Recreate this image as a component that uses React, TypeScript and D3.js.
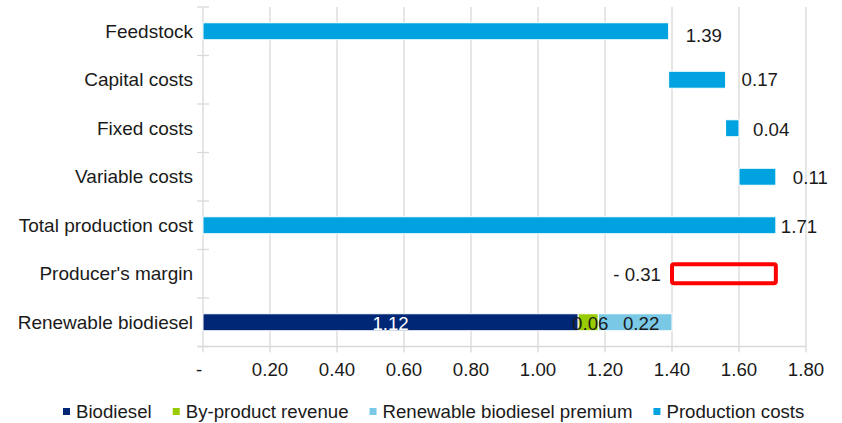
import React from "react";
import * as d3 from "d3";

const categories = [
  "Feedstock",
  "Capital costs",
  "Fixed costs",
  "Variable costs",
  "Total production cost",
  "Producer's margin",
  "Renewable biodiesel",
];
// waterfall: invisible base + visible production cost segment
const productionBase = [0, 1.39, 1.56, 1.6, 0];
const productionCosts = [1.39, 0.17, 0.04, 0.11, 1.71];
const marginBase = 1.4;
const marginValue = 0.31;
const marginLabel = "- 0.31";
const biodiesel = 1.12;
const byProduct = 0.06;
const premium = 0.22;
const xTicks = [0, 0.2, 0.4, 0.6, 0.8, 1.0, 1.2, 1.4, 1.6, 1.8];
const legendItems = [
  "Biodiesel",
  "By-product revenue",
  "Renewable biodiesel premium",
  "Production costs",
];

const COLORS = {
  production: "#00A3E0",
  biodiesel: "#002776",
  byProduct: "#99CC00",
  premium: "#78C8E6",
  margin: "#FF0000",
  grid: "#D9D9D9",
  text: "#1a1a1a",
};
const legendColors = [COLORS.biodiesel, COLORS.byProduct, COLORS.premium, COLORS.production];
const FONT = "'Liberation Sans', Arial, sans-serif";
const FS = 18.67;
const CAT_FS = 19;
// label layout: [x offset from bar end, y offset]
const labelOffsets = [
  [17, 4],
  [16, 0],
  [14, 1],
  [17, 1],
  [5, 1],
];

function measure(text: string): number {
  const c = document.createElement("canvas");
  const ctx = c.getContext("2d");
  if (!ctx) return text.length * 9;
  ctx.font = `${FS}px ${FONT}`;
  return ctx.measureText(text).width;
}

export default function App() {
  const W = 842;
  const H = 423;
  const left = 203;
  const right = 806;
  const top = 7;
  const bottom = 346.5;

  const x = d3.scaleLinear().domain([0, 1.8]).range([left, right]);
  const y = d3
    .scaleBand<string>()
    .domain(categories)
    .range([top, bottom])
    .paddingInner(0.65)
    .paddingOuter(0.325);
  const step = y.step();
  const bw = y.bandwidth();
  const cy = (c: string) => (y(c) as number) + bw / 2;
  const fmt = d3.format(".2f");

  // legend layout
  let lx = 63;
  const legendPos = legendItems.map((t) => {
    const p = lx;
    lx += 7 + 6 + measure(t) + 21;
    return p;
  });

  const renewRow = categories[6];
  const stack = [
    { v0: 0, v1: biodiesel, color: COLORS.biodiesel, label: fmt(biodiesel), tc: "#ffffff" },
    { v0: biodiesel, v1: biodiesel + byProduct, color: COLORS.byProduct, label: fmt(byProduct), tc: COLORS.text },
    { v0: biodiesel + byProduct, v1: biodiesel + byProduct + premium, color: COLORS.premium, label: fmt(premium), tc: COLORS.text },
  ];

  return (
    <svg
      width={W}
      height={H}
      style={{ position: "absolute", left: 0, top: 0, background: "#fff" }}
      fontFamily={FONT}
      fontSize={FS}
    >
      {/* gridlines */}
      {xTicks.map((t) => (
        <line key={"g" + t} x1={x(t)} x2={x(t)} y1={top} y2={bottom + 6} stroke={COLORS.grid} strokeWidth={1.3} />
      ))}
      {/* bottom axis */}
      <line x1={left - 6} x2={right} y1={bottom} y2={bottom} stroke={COLORS.grid} strokeWidth={1.3} />
      {/* category ticks */}
      {d3.range(categories.length + 1).map((i) => {
        const yy = top + i * step;
        return <line key={"t" + i} x1={left - 6} x2={left + 6} y1={yy} y2={yy} stroke={COLORS.grid} strokeWidth={1.3} />;
      })}
      {/* x tick labels */}
      {xTicks.map((t) => (
        <text key={"xl" + t} x={t === 0 ? x(t) - 4 : x(t)} y={376} textAnchor="middle" fill={COLORS.text}>
          {t === 0 ? "-" : fmt(t)}
        </text>
      ))}
      {/* category labels */}
      {categories.map((c) => (
        <text key={c} x={193} y={cy(c)} dy="0.35em" textAnchor="end" fill={COLORS.text} fontSize={CAT_FS}>
          {c}
        </text>
      ))}
      {/* production cost bars */}
      {productionCosts.map((v, i) => {
        const c = categories[i];
        const x0 = x(productionBase[i]);
        const x1 = x(productionBase[i] + v);
        return (
          <g key={"p" + i}>
            <rect x={x0} y={y(c)} width={x1 - x0} height={bw} fill={COLORS.production} stroke="#ffffff" strokeWidth={1} />
            <text x={x1 + labelOffsets[i][0]} y={cy(c) + labelOffsets[i][1]} dy="0.35em" fill={COLORS.text}>
              {fmt(v)}
            </text>
          </g>
        );
      })}
      {/* producer's margin */}
      <rect
        x={x(marginBase)}
        y={cy(categories[5]) - 9.5}
        width={x(marginBase + marginValue) - x(marginBase)}
        height={19}
        fill="none"
        stroke={COLORS.margin}
        strokeWidth={4}
        rx={2}
      />
      <text x={x(marginBase) - 11} y={cy(categories[5]) + 1} dy="0.35em" textAnchor="end" fill={COLORS.text}>
        {marginLabel}
      </text>
      {/* renewable biodiesel stacked */}
      {stack.map((s, i) => (
        <rect key={"s" + i} x={x(s.v0)} y={y(renewRow)} width={x(s.v1) - x(s.v0)} height={bw} fill={s.color} stroke="#ffffff" strokeWidth={1} />
      ))}
      {stack.map((s, i) => (
        <text
          key={"sl" + i}
          x={(x(s.v0) + x(s.v1)) / 2 + (i === 2 ? 6 : i === 1 ? 2 : 0)}
          y={cy(renewRow) + 1}
          dy="0.35em"
          textAnchor="middle"
          fill={s.tc}
        >
          {s.label}
        </text>
      ))}
      {/* legend */}
      {legendItems.map((t, i) => (
        <g key={"lg" + i}>
          <rect x={legendPos[i]} y={408} width={7} height={7} fill={legendColors[i]} />
          <text x={legendPos[i] + 13} y={418} fill={COLORS.text}>
            {t}
          </text>
        </g>
      ))}
    </svg>
  );
}
